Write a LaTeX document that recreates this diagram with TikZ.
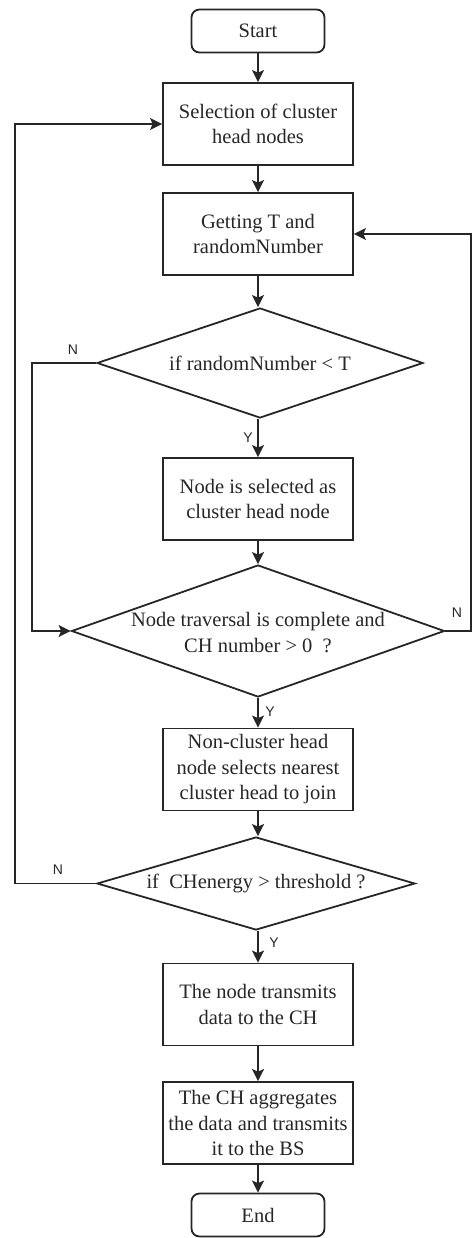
\documentclass[tikz,border=0pt]{standalone}
\usepackage{fontspec}
\setmainfont{Liberation Serif}
\newfontfamily\lblfont{Liberation Sans}
\usetikzlibrary{arrows.meta,shapes.geometric}
\begin{document}
\begin{tikzpicture}[x=1pt,y=-1pt,
  line/.style={draw=black!85,line width=1.8pt},
  arr/.style={line,-{Stealth[length=12pt,width=12pt,inset=2.5pt]}},
  proc/.style={line,rectangle,minimum width=190pt,minimum height=82pt,inner sep=0pt,align=center,
     text=black!85,font=\fontsize{20.5}{25.5}\selectfont},
  term/.style={line,rectangle,rounded corners=8pt,minimum width=133pt,minimum height=43pt,inner sep=0pt,
     text=black!85,font=\fontsize{20.5}{25.5}\selectfont},
  dia/.style={line,diamond,inner sep=0pt},
  dtext/.style={align=center,inner sep=0pt,text=black!85,font=\fontsize{20.5}{26}\selectfont},
  lbl/.style={inner sep=0pt,text=black!85,font=\lblfont\fontsize{14}{16}\selectfont}]
\useasboundingbox (0,0) rectangle (473,1238);
\node[term] (start) at (258,31) {Start};
\node[proc] (b1) at (258,124) {Selection of cluster\\head nodes};
\node[proc] (b2) at (258,234) {Getting T and\\randomNumber};
\node[dia,minimum width=326pt,minimum height=110pt] (d1) at (260,363) {};
\node[dtext] (t1) at (d1.center) {if randomNumber < T};
\node[proc] (b3) at (258,499) {Node is selected as\\cluster head node};
\node[dia,minimum width=373pt,minimum height=132pt] (d2) at (258,631) {};
\node[dtext] (t2) at ([yshift=-2pt]d2.center) {Node traversal is complete and\\CH number > 0\ \ ?};
\node[proc] (b4) at (258,769.5) {Non-cluster head\\node selects nearest\\cluster head to join};
\node[dia,minimum width=318pt,minimum height=93pt] (d3) at (256,883.5) {};
\node[dtext] (t3) at (d3.center) {if\ \ CHenergy > threshold ?};
\node[proc] (b5) at (258,1004.5) {The node transmits\\data to the CH};
\node[proc] (b6) at (258,1123) {The CH aggregates\\the data and transmits\\it to the BS};
\node[term] (end) at (258,1215) {End};

\draw[arr] (start) -- (b1);
\draw[arr] (b1) -- (b2);
\draw[arr] (b2.south) -- (b2.south |- d1.north);
\draw[arr] (d1.south -| b3.north) -- (b3.north);
\draw[arr] (b3) -- (b3.south |- d2.north);
\draw[arr] (d2.south) -- (b4.north);
\draw[arr] (b4.south) -- (b4.south |- d3.north);
\draw[arr] (d3.south -| b5.north) -- (b5.north);
\draw[arr] (b5) -- (b6);
\draw[arr] (b6) -- (end);

\coordinate (l1) at (32,363);
\coordinate (r1) at (471,631);
\coordinate (l2) at (15,883.5);
\draw[arr] (d1.west) -- (l1) |- (d2.west);
\draw[arr] (d2.east) -- (r1) |- (b2.east);
\draw[arr] (d3.west) -- (l2) |- (b1.west);

\node[lbl] (n1) at (73,350) {N};
\node[lbl] (n2) at (457,613) {N};
\node[lbl] (n3) at (58,870) {N};
\node[lbl] (y1) at (248,438) {Y};
\node[lbl] (y2) at (270,712) {Y};
\node[lbl] (y3) at (274,943) {Y};
\end{tikzpicture}
\end{document}
